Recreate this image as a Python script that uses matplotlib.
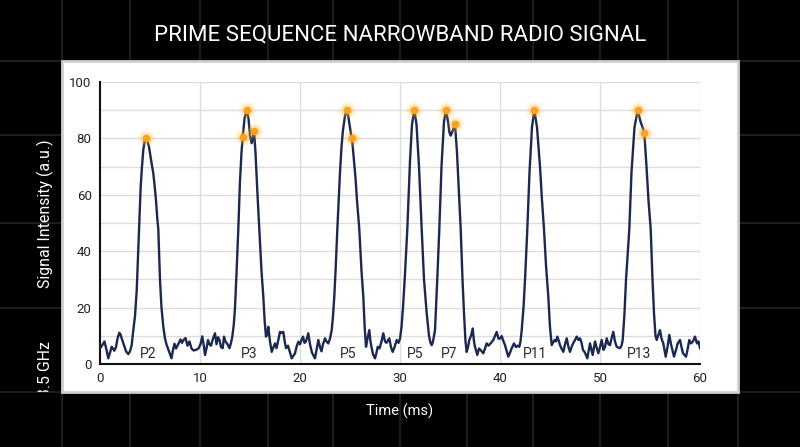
import matplotlib
matplotlib.use("Agg")
import matplotlib.pyplot as plt
from matplotlib.patches import Rectangle
from matplotlib.transforms import Bbox, TransformedBbox
from matplotlib.lines import Line2D

# ---------------- data ----------------
time_ms = [
    0.0, 0.2, 0.45, 0.65, 0.83, 1.0, 1.17, 1.3, 1.43, 1.6, 1.75, 1.93, 2.05, 2.17, 2.4, 2.6, 2.83, 3.0, 3.17,
    3.33, 3.5, 3.67, 3.8, 3.92, 4.07, 4.2, 4.33, 4.47, 4.6, 4.75, 4.9, 5.1, 5.33, 5.47, 5.6, 5.72,
    5.83, 5.92, 6.0, 6.15, 6.33, 6.5, 6.67, 6.85, 7.15, 7.3, 7.45, 7.6, 7.75, 8.05, 8.2, 8.35, 8.55, 8.75,
    8.95, 9.15, 9.35, 9.6, 9.85, 10.05, 10.23, 10.4, 10.5, 10.65, 10.8, 10.95, 11.1, 11.3, 11.5, 11.65,
    11.8, 11.95, 12.1, 12.27, 12.4, 12.55, 12.75, 12.95, 13.1, 13.23, 13.38, 13.5, 13.65, 13.83, 14.0,
    14.15, 14.27, 14.45, 14.67, 14.85, 15.0, 15.17, 15.3, 15.4, 15.55, 15.75, 15.93, 16.15, 16.33, 16.47,
    16.6, 16.72, 16.83, 17.0, 17.17, 17.35, 17.5, 17.65, 17.8, 18.0, 18.15, 18.33, 18.47, 18.6, 18.8,
    19.0, 19.17, 19.35, 19.5, 19.65, 19.83, 20.0, 20.15, 20.3, 20.45, 20.6, 20.83, 21.0, 21.2, 21.5,
    21.65, 21.83, 22.0, 22.15, 22.3, 22.5, 22.65, 22.83, 23.0, 23.17, 23.3, 23.43, 23.58, 23.73, 24.0,
    24.15, 24.3, 24.5, 24.67, 24.82, 24.95, 25.1, 25.2, 25.4, 25.55, 25.7, 25.93, 26.15, 26.33, 26.47,
    26.6, 26.75, 26.93, 27.05, 27.17, 27.3, 27.5, 27.65, 27.77, 27.95, 28.15, 28.33, 28.5, 28.65, 28.93,
    29.1, 29.27, 29.45, 29.67, 29.85, 30.0, 30.15, 30.3, 30.5, 30.73, 31.0, 31.2, 31.43, 31.65, 31.9,
    32.17, 32.4, 32.67, 32.9, 33.05, 33.17, 33.3, 33.5, 33.6, 33.75, 33.93, 34.15, 34.4, 34.6, 34.8,
    34.95, 35.07, 35.3, 35.5, 35.7, 35.9, 36.07, 36.25, 36.4, 36.55, 36.67, 36.8, 36.93, 37.1, 37.27,
    37.4, 37.5, 37.73, 37.9, 38.05, 38.33, 38.5, 38.67, 38.85, 39.1, 39.33, 39.5, 39.67, 39.85, 40.0,
    40.17, 40.35, 40.5, 40.83, 41.0, 41.17, 41.4, 41.6, 41.75, 41.93, 42.05, 42.17, 42.35, 42.5, 42.73,
    42.95, 43.2, 43.43, 43.7, 44.0, 44.2, 44.4, 44.6, 44.83, 45.0, 45.17, 45.3, 45.45, 45.6, 45.73, 45.9,
    46.0, 46.15, 46.33, 46.5, 46.67, 46.85, 47.0, 47.15, 47.35, 47.5, 47.67, 47.85, 48.0, 48.15, 48.3,
    48.5, 48.73, 49.0, 49.27, 49.5, 49.65, 49.83, 50.0, 50.17, 50.35, 50.5, 50.67, 50.85, 51.0, 51.15,
    51.33, 51.5, 51.67, 51.85, 52.0, 52.15, 52.27, 52.45, 52.6, 52.93, 53.15, 53.45, 53.77, 54.05, 54.25,
    54.43, 54.65, 54.85, 55.07, 55.25, 55.4, 55.55, 55.67, 55.85, 56.0, 56.15, 56.33, 56.57, 56.75, 56.93,
    57.1, 57.2, 57.4, 57.6, 57.77, 58.0, 58.15, 58.3, 58.6, 58.75, 58.93, 59.1, 59.3, 59.5, 59.7, 59.85,
    60.0,
]
intensity = [
    5.6, 6.5, 8.0, 5.0, 2.0, 4.0, 6.1, 5.5, 4.7, 6.0, 9.0, 11.1, 10.5, 9.1, 6.7, 4.5, 3.5, 4.5, 6.7,
    12.0, 17.0, 26.0, 38.0, 50.0, 63.0, 70.0, 76.0, 79.0, 80.0, 79.0, 77.0, 72.5, 67.6, 63.0, 58.0, 52.0,
    47.8, 38.0, 29.8, 20.0, 13.2, 9.0, 6.7, 5.0, 2.0, 5.0, 7.2, 5.5, 6.5, 8.7, 7.5, 8.5, 9.2, 6.5,
    8.0, 5.5, 4.8, 5.0, 5.5, 7.0, 9.8, 6.0, 3.2, 5.5, 8.5, 7.0, 6.5, 9.0, 10.9, 7.0,
    9.5, 8.5, 6.0, 5.6, 9.7, 8.0, 7.0, 5.6, 7.5, 9.7, 14.0, 20.0, 32.0, 47.8, 65.0,
    75.0, 80.4, 87.0, 90.0, 87.0, 81.0, 78.3, 80.5, 82.6, 75.0, 60.0, 47.8, 33.0, 23.9, 15.0,
    9.7, 10.5, 13.2, 8.0, 4.3, 6.0, 7.3, 5.6, 8.0, 11.4, 11.0, 11.4, 8.0, 5.6, 6.5,
    4.0, 2.0, 3.0, 3.8, 6.0, 7.9, 7.0, 8.5, 9.7, 7.5, 8.0, 10.9, 7.0, 4.0, 2.0,
    5.0, 8.5, 6.0, 4.5, 7.0, 9.1, 8.0, 7.3, 9.0, 12.0, 17.0, 23.9, 35.0, 47.5, 68.0,
    77.0, 83.0, 88.0, 90.0, 88.0, 85.0, 81.5, 80.0, 72.0, 66.0, 58.0, 47.8, 33.0, 23.9, 13.0,
    6.1, 9.0, 12.0, 8.0, 5.6, 3.5, 2.0, 4.0, 6.1, 5.5, 8.0, 10.9, 8.0, 7.5, 9.1,
    6.0, 4.3, 6.0, 8.5, 7.5, 9.0, 13.0, 20.0, 32.0, 47.8, 72.0, 85.0, 90.0, 85.0, 70.0,
    47.8, 30.0, 18.0, 10.0, 7.5, 6.7, 8.0, 12.0, 20.0, 32.0, 47.8, 70.0, 86.0, 90.0, 86.0,
    82.0, 81.0, 83.0, 85.0, 75.0, 60.0, 47.8, 30.0, 18.0, 8.0, 4.3, 6.0, 8.5, 10.0, 12.6,
    8.0, 6.1, 3.2, 5.5, 5.0, 3.8, 5.5, 7.3, 6.5, 7.5, 8.5, 10.0, 11.4, 9.0, 9.0,
    9.9, 8.0, 6.7, 2.6, 4.0, 5.6, 7.3, 6.0, 6.5, 6.1, 8.0, 12.0, 20.0, 29.8, 47.8,
    68.0, 84.0, 90.0, 84.0, 70.0, 58.0, 47.8, 35.0, 23.9, 13.0, 6.7, 7.5, 8.5, 8.0, 9.7, 8.0,
    6.7, 5.5, 4.3, 7.0, 9.1, 6.0, 4.3, 6.0, 7.6, 8.5, 9.7, 8.5, 9.1, 7.6, 5.0,
    4.0, 2.0, 7.3, 3.2, 8.0, 6.0, 3.8, 6.0, 8.5, 5.0, 6.0, 9.1, 7.0, 6.7, 9.0,
    11.4, 8.0, 6.1, 5.8, 5.6, 6.5, 8.5, 18.0, 29.8, 47.8, 68.0, 84.0, 90.0, 86.0, 84.0,
    82.0, 70.0, 58.0, 47.8, 30.0, 18.0, 10.0, 8.5, 10.5, 12.0, 9.0, 7.3, 2.6, 6.0, 10.3,
    7.0, 5.6, 2.6, 5.0, 7.3, 8.5, 6.0, 3.8, 2.6, 5.0, 8.5, 7.3, 8.0, 9.7, 7.3, 8.0,
    5.6,
]

peak_x = [4.6, 14.27, 14.67, 15.4, 24.67, 25.2, 31.43, 34.6, 35.5, 43.43, 53.77, 54.43]
peak_y = [80, 80.4, 90, 82.6, 90, 80, 90, 90, 85, 90, 90, 82]

label_text = ["P2", "P3", "P5", "P5", "P7", "P11", "P13"]
label_x = [4.8, 14.9, 24.8, 31.5, 34.9, 43.5, 53.9]
label_y = 3.5

title = "PRIME SEQUENCE NARROWBAND RADIO SIGNAL"

# ---------------- figure ----------------
W, H = 800, 447
fig = plt.figure(figsize=(8, 4.47), dpi=100, facecolor="black")

def fx(px):
    return px / W

def fy(py):
    return 1 - py / H

# background grid lines on the black canvas
for vx in [62, 130, 200, 268, 333, 400, 467, 533, 600, 668, 738]:
    fig.add_artist(Line2D([fx(vx), fx(vx)], [0, 1], color="#242424", lw=1.2, zorder=0))
for hy in [61, 135, 223, 308, 392]:
    fig.add_artist(Line2D([0, 1], [fy(hy), fy(hy)], color="#242424", lw=1.2, zorder=0))

# white panel
panel = Rectangle((fx(62), fy(392)), fx(738) - fx(62), fy(61) - fy(392),
                  transform=fig.transFigure, facecolor="white", edgecolor="#cfcfcf",
                  lw=2, zorder=1)
fig.add_artist(panel)

ax = fig.add_axes([fx(100), fy(364), fx(700) - fx(100), fy(82) - fy(364)])
ax.set_zorder(2)
ax.set_facecolor("white")
ax.plot(time_ms, intensity, color="#1b2850", lw=1.7, zorder=3)

# glowing peak markers
ax.scatter(peak_x, peak_y, s=160, color="#ffb52e", alpha=0.12, lw=0, zorder=4)
ax.scatter(peak_x, peak_y, s=80, color="#ffb030", alpha=0.25, lw=0, zorder=4)
ax.scatter(peak_x, peak_y, s=30, color="#f7a21e", lw=0, zorder=5)

for t, x in zip(label_text, label_x):
    ax.text(x, label_y, t, ha="center", va="center", fontsize=10, color="#2a2a2a",
            family="Roboto", zorder=6)

ax.set_xlim(0, 60)
ax.set_ylim(0, 100)
ax.set_xticks([0, 10, 20, 30, 40, 50, 60])
ax.set_yticks([0, 20, 40, 60, 80, 100])
ax.set_yticks([10, 30, 50, 70, 90], minor=True)
ax.grid(True, which="both", axis="y", color="#dddddd", lw=1)
ax.grid(True, which="major", axis="x", color="#dddddd", lw=1)
ax.set_axisbelow(True)
ax.tick_params(axis="both", which="both", length=0, labelsize=9.5, labelcolor="#222222", pad=6)
for lab in ax.get_xticklabels() + ax.get_yticklabels():
    lab.set_family("Roboto")
for s in ["top", "right"]:
    ax.spines[s].set_visible(False)
for s in ["left", "bottom"]:
    ax.spines[s].set_color("#111111")
    ax.spines[s].set_linewidth(1.5)

# texts on the black canvas
fig.text(0.5, fy(35), title, ha="center", va="center", color="white", fontsize=16,
         family="Roboto")
fig.text(0.5, fy(411), "Time (ms)", ha="center", va="center", color="white", fontsize=10.5,
         family="Roboto")
fig.text(fx(45), fy(214), "Signal Intensity (a.u.)", ha="center", va="center", color="white",
         fontsize=11.4, rotation=90, family="Roboto")
t35 = fig.text(fx(45), fy(369), "3.5 GHz", ha="center", va="center", color="white",
               fontsize=11.4, rotation=90, family="Roboto")
t35.set_clip_box(TransformedBbox(Bbox([[0, fy(392)], [1, 1]]), fig.transFigure))
t35.set_clip_on(True)

fig.savefig("out.png", dpi=100, facecolor="black")
